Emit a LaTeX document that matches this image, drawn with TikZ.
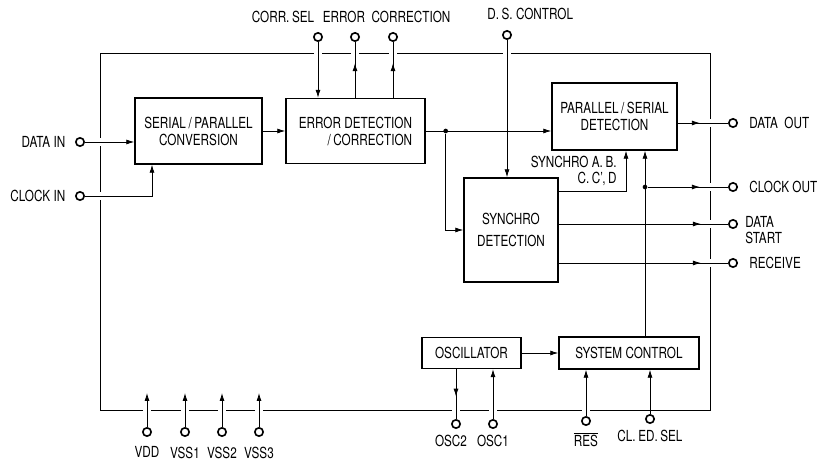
\documentclass[tikz,border=0pt]{standalone}
\usepackage{fontspec}
\setmainfont{TeX Gyre Heros}[FakeStretch=0.77]
\usetikzlibrary{arrows.meta,positioning,calc,decorations.markings}

\begin{document}
\begin{tikzpicture}[x=0.03cm, y=-0.03cm,
        blk/.style={draw, line width=1.2pt, align=center, font=\fontsize{13}{14.5}\selectfont, inner sep=2pt},
        pin/.style={circle, draw, line width=1.4pt, fill=white, inner sep=0pt, minimum size=0.25cm},
        lbl/.style={font=\fontsize{13}{14.5}\selectfont, inner sep=1pt},
        wire/.style={line width=0.7pt},
        arrow/.style={wire, -{Latex[length=2.4mm, width=1.5mm]}},
        midarrow/.style={wire, decoration={markings, mark=at position #1 with {\arrow{Latex[length=2.4mm, width=1.5mm]}}}, postaction={decorate}},
        halo/.style={preaction={draw=white, line width=7pt, shorten <=3.5pt, shorten >=3.5pt}},
        dot/.style={circle, fill, inner sep=0pt, minimum size=4pt}
    ]
    \useasboundingbox (0,0) rectangle (835,461);
    % Blocos
    \node[blk, minimum width=3.81cm, minimum height=1.98cm] (sp) at (198.5,131) {SERIAL\,/\,PARALLEL\\CONVERSION};
    \node[blk, minimum width=4.17cm, minimum height=1.95cm, align=right] (err) at (355.5,131) {ERROR DETECTION\\/\,CORRECTION};
    \node[blk, minimum width=3.75cm, minimum height=2.01cm] (ps) at (614.5,116.5) {PARALLEL\,/\,SERIAL\\DETECTION};
    \node[blk, minimum width=2.82cm, minimum height=3.12cm] (sync) at (511,230) {SYNCHRO\\[4pt]DETECTION};
    \node[blk, minimum width=2.97cm, minimum height=0.93cm] (osc) at (471.5,353) {OSCILLATOR};
    \node[blk, minimum width=4.2cm, minimum height=0.96cm] (sys) at (629,353) {SYSTEM CONTROL};
    % Pinos
    \node[pin] (pDataIn) at (80,142) {};
    \node[pin] (pClkIn) at (80,196) {};
    \node[pin] (pCorrSel) at (318,37) {};
    \node[pin] (pErr) at (355,37) {};
    \node[pin] (pCorr) at (393,37) {};
    \node[pin] (pDsCtl) at (507,35) {};
    \node[pin] (pDataOut) at (733,123) {};
    \node[pin] (pClkOut) at (733,187) {};
    \node[pin] (pDataStart) at (733,224) {};
    \node[pin] (pRecv) at (733,263) {};
    \node[pin] (pVdd) at (147,432) {};
    \node[pin] (pVss1) at (185,432) {};
    \node[pin] (pVss2) at (222,432) {};
    \node[pin] (pVss3) at (259,432) {};
    \node[pin] (pOsc2) at (456,424) {};
    \node[pin] (pOsc1) at (493,424) {};
    \node[pin] (pRes) at (586,421) {};
    \node[pin] (pClEd) at (650,419) {};
    % Rotulos dos pinos
    \node[lbl, left=0.25cm of pDataIn] (lDataIn) {DATA IN};
    \node[lbl, left=0.25cm of pClkIn] (lClkIn) {CLOCK IN};
    \node[lbl] (lCorrSel) at (283,17) {CORR.\,SEL};
    \node[lbl] (lErr) at (344,17) {ERROR};
    \node[lbl] (lCorr) at (411,17) {CORRECTION};
    \node[lbl, anchor=west] (lDsCtl) at (486,14) {D.\,S.\ CONTROL};
    \node[lbl, right=0.3cm of pDataOut] (lDataOut) {DATA\ \ OUT};
    \node[lbl, right=0.3cm of pClkOut] (lClkOut) {CLOCK\ OUT};
    \node[lbl, anchor=north west, align=left] (lDataStart) at (744,215) {DATA\\[-1pt]START};
    \node[lbl, right=0.3cm of pRecv] (lRecv) {RECEIVE};
    \node[lbl, below=0.25cm of pVdd] (lVdd) {VDD};
    \node[lbl, below=0.25cm of pVss1] (lVss1) {VSS1};
    \node[lbl, below=0.25cm of pVss2] (lVss2) {VSS2};
    \node[lbl, below=0.25cm of pVss3] (lVss3) {VSS3};
    \node[lbl, below=0.15cm of pOsc2, xshift=-0.15cm] (lOsc2) {OSC2};
    \node[lbl, below=0.15cm of pOsc1] (lOsc1) {OSC1};
    \node[lbl, below=0.15cm of pRes] (lRes) {$\overline{\mbox{RES}}$};
    \node[lbl, below=0.15cm of pClEd] (lClEd) {CL.\,ED.\,SEL};
    \node[lbl, anchor=east, align=right] (lSync) at (618,171) {SYNCHRO A.\,B.\\[-1pt]C.\,C',\,D};
    % Contorno do chip
    \draw[wire] (100,53) rectangle (710,410);
    % Ligacoes dos pinos
    \draw[arrow, halo] (pDataIn) -- (pDataIn -| sp.west);
    \draw[arrow, halo] (pClkIn) -| ([xshift=-1.395cm]sp.south);
    \draw[arrow, halo] (pCorrSel) -- (pCorrSel |- err.north);
    \draw[midarrow=0.62, halo] (pErr |- err.north) -- (pErr);
    \draw[midarrow=0.62, halo] (pCorr |- err.north) -- (pCorr);
    \draw[arrow, halo] (pDsCtl) -- (pDsCtl |- sync.north);
    \draw[midarrow=0.44, halo] (ps.east |- pDataOut) -- (pDataOut);
    \node[dot] (jClk) at (645,187) {};
    \draw[midarrow=0.65, halo] (jClk) -- (pClkOut);
    \draw[midarrow=0.84, halo] (sync.east |- pDataStart) -- (pDataStart);
    \draw[midarrow=0.84, halo] (sync.east |- pRecv) -- (pRecv);
    \draw[arrow, halo] (pVdd) -- ++(0,-39);
    \draw[arrow, halo] (pVss1) -- ++(0,-39);
    \draw[arrow, halo] (pVss2) -- ++(0,-39);
    \draw[arrow, halo] (pVss3) -- ++(0,-39);
    \draw[midarrow=0.55, halo] (pOsc2 |- osc.south) -- (pOsc2);
    \draw[arrow, halo] (pOsc1) -- (pOsc1 |- osc.south);
    \draw[arrow, halo] (pRes) -- (pRes |- sys.south);
    \draw[arrow, halo] (pClEd) -- (pClEd |- sys.south);
    % Fluxo interno
    \draw[arrow] (sp) -- (err);
    \draw[arrow] (err.east) -- (err.east -| ps.west);
    \node[dot] (jData) at ([xshift=0.6cm]err.east) {};
    \draw[arrow] (jData) |- (sync.west);
    \draw[arrow] ([yshift=-0.42cm]sync.north east) -| ([xshift=0.345cm]ps.south);
    \draw[arrow] (jClk |- sys.north) -- (jClk |- ps.south);
    \draw[arrow] (osc) -- (sys);
\end{tikzpicture}
\end{document}
